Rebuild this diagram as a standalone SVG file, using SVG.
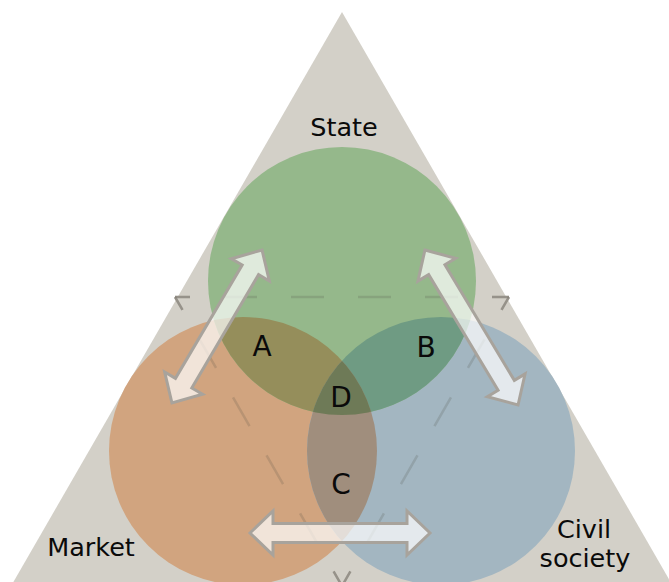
<svg xmlns="http://www.w3.org/2000/svg" xmlns:xlink="http://www.w3.org/1999/xlink" width="669" height="582" viewBox="0 0 669 582">
  <style>
    .label { font-family: "DejaVu Sans", Verdana, "Liberation Sans", sans-serif; font-size: 25.5px; fill: #0a0a0a; text-anchor: middle; }
    .zone { font-family: "DejaVu Sans", Verdana, "Liberation Sans", sans-serif; font-size: 28px; fill: #0a0a0a; text-anchor: middle; }
    .dash { fill: none; stroke-width: 2.5; stroke-dasharray: 33 34; stroke-dashoffset: 18; }
    .dash-under { stroke: #a8a39b; }
    .dash-over { stroke: #4a463f; stroke-opacity: 0.18; }
    .arrow { fill: #ffffff; fill-opacity: 0.7; stroke: #a8a39c; stroke-width: 3; stroke-linejoin: miter; }
  </style>
  <defs>
    <clipPath id="clip-state"><circle cx="342" cy="281" r="134"/></clipPath>
    <clipPath id="clip-market"><circle cx="243" cy="451" r="134"/></clipPath>
    <clipPath id="clip-civil"><circle cx="441" cy="451" r="134"/></clipPath>
    <!-- inner dashed triangle, one path per side so each side starts with the same dash phase -->
    <g id="dash-sides">
      <path d="M175 297 L509 297"/>
      <path d="M175 297 L342 586"/>
      <path d="M509 297 L342 586"/>
    </g>
  </defs>

  <!-- backdrop triangle -->
  <polygon points="342,12 3,600 681,600" fill="#d3d0c8"/>

  <!-- dashed triangle beneath the circles -->
  <use xlink:href="#dash-sides" class="dash dash-under"/>

  <!-- sector circles -->
  <g id="market">
    <circle cx="243" cy="451" r="134" fill="#d1a47f"/>
  </g>
  <g id="civil-society">
    <circle cx="441" cy="451" r="134" fill="#a3b6c1"/>
  </g>
  <g id="state">
    <circle cx="342" cy="281" r="134" fill="#95b88b"/>
  </g>

  <!-- overlap zones -->
  <g id="zone-a">
    <circle cx="243" cy="451" r="134" fill="#958e5b" clip-path="url(#clip-state)"/>
  </g>
  <g id="zone-b">
    <circle cx="441" cy="451" r="134" fill="#6f9b83" clip-path="url(#clip-state)"/>
  </g>
  <g id="zone-c">
    <circle cx="441" cy="451" r="134" fill="#a08e7d" clip-path="url(#clip-market)"/>
  </g>
  <g id="zone-d">
    <g clip-path="url(#clip-market)">
      <circle cx="441" cy="451" r="134" fill="#6e7a57" clip-path="url(#clip-state)"/>
    </g>
  </g>

  <!-- dashed triangle seen faintly through the circles -->
  <use xlink:href="#dash-sides" class="dash dash-over"/>

  <!-- double-headed arrows between the sectors -->
  <g id="connectors">
    <path class="arrow" transform="translate(217 326.5) rotate(-59.5)" d="M-88.75 0 L-65.75 -22 L-65.75 -9.5 L65.75 -9.5 L65.75 -22 L88.75 0 L65.75 22 L65.75 9.5 L-65.75 9.5 L-65.75 22 Z"/>
    <path class="arrow" transform="translate(471.5 327.5) rotate(59)" d="M-90.4 0 L-67.4 -22 L-67.4 -9.5 L67.4 -9.5 L67.4 -22 L90.4 0 L67.4 22 L67.4 9.5 L-67.4 9.5 L-67.4 22 Z"/>
    <path class="arrow" transform="translate(340 533)" d="M-90 0 L-67 -22 L-67 -9.5 L67 -9.5 L67 -22 L90 0 L67 22 L67 9.5 L-67 9.5 L-67 22 Z"/>
  </g>

  <!-- labels -->
  <g id="labels">
    <text class="label" x="344" y="136">State</text>
    <text class="label" x="91" y="556">Market</text>
    <text class="label" x="584" y="538">Civil</text>
    <text class="label" x="585" y="567">society</text>
    <text class="zone" x="262" y="356">A</text>
    <text class="zone" x="426" y="357">B</text>
    <text class="zone" x="341" y="407">D</text>
    <text class="zone" x="341" y="494">C</text>
  </g>
</svg>
